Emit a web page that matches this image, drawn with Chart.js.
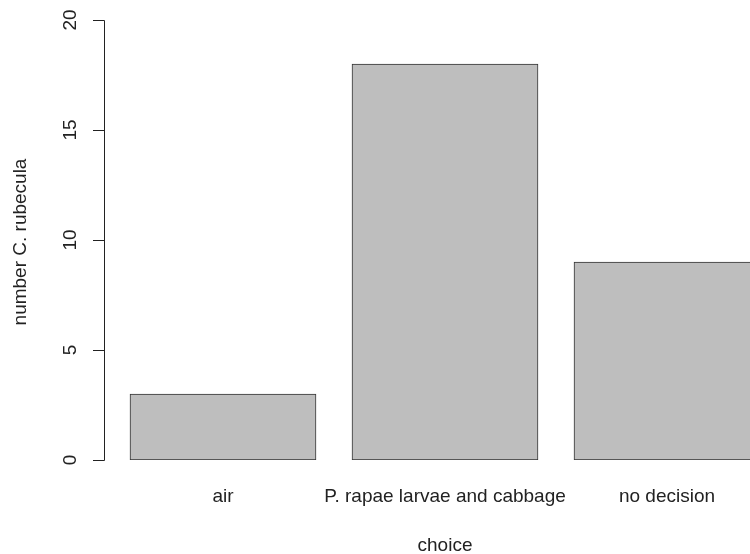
<!DOCTYPE html>
<html>
<head>
<meta charset="utf-8">
<script src="https://cdn.jsdelivr.net/npm/chart.js@4"></script>
<style>
  html, body { margin: 0; padding: 0; background: #fff; overflow: hidden; }
  #wrap { width: 750px; height: 554px; overflow: hidden; }
</style>
</head>
<body>
<div id="wrap"><canvas id="barChart" width="790" height="554"></canvas></div>
<script>
const categories = ['air', 'P. rapae larvae and cabbage', 'no decision']
const counts = [3, 18, 9]
const yTicks = [0, 5, 10, 15, 20]

const FONT = 'Arial, "Liberation Sans", sans-serif'
const INK = '#222'

// R-style y axis: line set off from the plot, rotated labels
const rAxis = {
  id: 'rAxis',
  afterDraw(chart) {
    const ctx = chart.ctx
    const y = chart.scales.y
    const axisX = 104.5
    ctx.save()
    ctx.strokeStyle = INK
    ctx.lineWidth = 1
    ctx.beginPath()
    ctx.moveTo(axisX, Math.round(y.getPixelForValue(yTicks[0])) + 0.5)
    ctx.lineTo(axisX, Math.round(y.getPixelForValue(yTicks[yTicks.length - 1])) + 0.5)
    yTicks.forEach(v => {
      const py = Math.round(y.getPixelForValue(v)) + 0.5
      ctx.moveTo(93, py)
      ctx.lineTo(axisX, py)
    })
    ctx.stroke()

    ctx.fillStyle = INK
    ctx.font = '19px ' + FONT
    ctx.textAlign = 'center'
    ctx.textBaseline = 'middle'
    yTicks.forEach(v => {
      ctx.save()
      ctx.translate(70, y.getPixelForValue(v))
      ctx.rotate(-Math.PI / 2)
      ctx.fillText(String(v), 0, 1)
      ctx.restore()
    })

    // y title
    ctx.save()
    ctx.translate(21, y.getPixelForValue(10) + 2)
    ctx.rotate(-Math.PI / 2)
    ctx.fillText('number C. rubecula', 0, 0)
    ctx.restore()
    ctx.restore()
  },
}

const ctx = document.getElementById('barChart').getContext('2d')
const barChart = new Chart(ctx, {
  type: 'bar',
  data: {
    labels: categories,
    datasets: [
      {
        data: counts,
        backgroundColor: '#bebebe',
        borderColor: '#333',
        borderWidth: 1,
        borderSkipped: false,
        barThickness: 186,
      },
    ],
  },
  options: {
    responsive: false,
    animation: false,
    layout: { padding: { left: 112, right: 12, top: 20, bottom: 0 } },
    plugins: { legend: { display: false }, tooltip: { enabled: false } },
    scales: {
      x: {
        grid: { display: false, drawTicks: false },
        border: { display: false },
        ticks: { color: INK, font: { family: FONT, size: 19 }, padding: 25, maxRotation: 0, autoSkip: false },
        title: { display: true, text: 'choice', color: INK, font: { family: FONT, size: 19 }, padding: { top: 0, bottom: -3 } },
        afterFit: (scale) => { scale.height = 94 },
      },
      y: {
        display: false,
        min: 0,
        max: 20,
      },
    },
  },
  plugins: [rAxis],
})
</script>
</body>
</html>
